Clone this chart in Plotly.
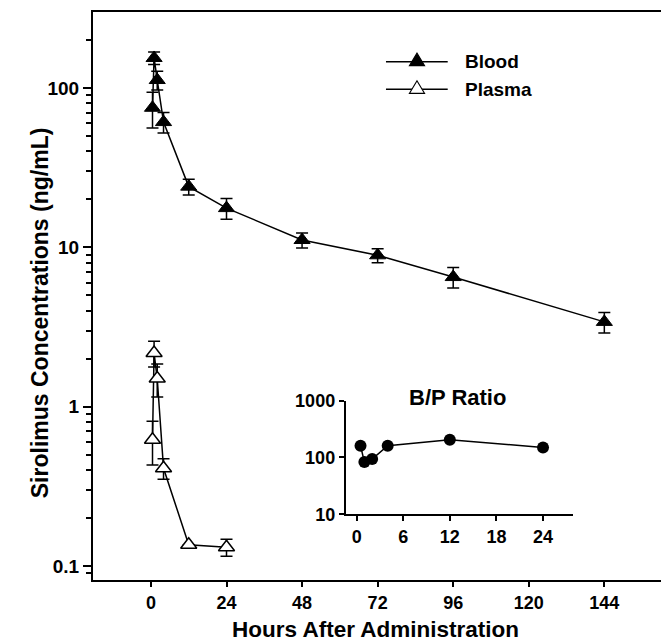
import plotly.graph_objects as go

# ---- data ----
blood_time = [0.5, 1, 2, 4, 12, 24, 48, 72, 96, 144]
blood_conc = [75, 154, 112, 61, 24, 17.6, 11.1, 8.9, 6.5, 3.4]
blood_err = [19, 14, 15, 9, 2.7, 2.6, 1.2, 0.9, 0.95, 0.5]

plasma_time = [0.5, 1, 2, 4, 12, 24]
plasma_conc = [0.62, 2.17, 1.5, 0.41, 0.136, 0.131]
plasma_err = [0.19, 0.4, 0.35, 0.06, 0.0, 0.016]

ratio_time = [0.5, 1, 2, 4, 12, 24]
ratio_vals = [161, 83, 94, 161, 205, 150]

x_ticks = [0, 24, 48, 72, 96, 120, 144]
y_ticks = [0.1, 1, 10, 100]
y_ticktext = ["0.1", "1", "10", "100"]
y_minor = [0.09, 0.2, 0.3, 0.4, 0.5, 0.6, 0.7, 0.8, 0.9,
           2, 3, 4, 5, 6, 7, 8, 9, 20, 30, 40, 50, 60, 70, 80, 90, 200]
inset_x_ticks = [0, 6, 12, 18, 24]
inset_y_ticks = [10, 100, 1000]

FONT = "Liberation Sans, Arial, Helvetica, sans-serif"
BOLD = dict(family=FONT, color="black", weight="bold")

fig = go.Figure()

fig.add_trace(go.Scatter(
    x=blood_time, y=blood_conc, mode="lines+markers", name="Blood",
    line=dict(color="black", width=1.5),
    marker=dict(symbol="triangle-up", size=14, color="black",
                line=dict(color="black", width=1)),
    error_y=dict(type="data", array=blood_err, visible=True,
                 color="black", thickness=1.5, width=6),
    showlegend=False, xaxis="x", yaxis="y"))

fig.add_trace(go.Scatter(
    x=plasma_time, y=plasma_conc, mode="lines+markers", name="Plasma",
    line=dict(color="black", width=1.5),
    marker=dict(symbol="triangle-up", size=14, color="white",
                line=dict(color="black", width=1.5)),
    error_y=dict(type="data", array=plasma_err, visible=True,
                 color="black", thickness=1.5, width=6),
    showlegend=False, xaxis="x", yaxis="y"))

fig.add_trace(go.Scatter(
    x=ratio_time, y=ratio_vals, mode="lines+markers", name="B/P Ratio",
    line=dict(color="black", width=1.5),
    marker=dict(symbol="circle", size=12, color="black"),
    showlegend=False, xaxis="x2", yaxis="y2"))

# legend drawn manually (long line with marker in the middle)
leg_x0, leg_x1, leg_xm, leg_xt = 0.5158, 0.6245, 0.5704, 0.6509
leg_rows = [(0.9125, "Blood", "black"), (0.8639, "Plasma", "white")]
shapes = []
annotations = []
for yy, label, fill in leg_rows:
    shapes.append(dict(type="line", xref="paper", yref="paper",
                       x0=leg_x0, x1=leg_x1, y0=yy, y1=yy,
                       line=dict(color="black", width=1.5)))
    shapes.append(dict(type="path", xref="paper", yref="paper",
                       xsizemode="pixel", ysizemode="pixel",
                       xanchor=leg_xm, yanchor=yy,
                       path="M-7.5,-4 L7.5,-4 L0,8.5 Z",
                       fillcolor=fill, line=dict(color="black", width=1.2)))
    annotations.append(dict(xref="paper", yref="paper", x=leg_xt, y=yy,
                            xanchor="left", yanchor="middle", showarrow=False,
                            text=label, font=dict(size=19, **BOLD)))

annotations.append(dict(xref="paper", yref="paper", x=0.6426, y=0.322,
                        xanchor="center", yanchor="middle", showarrow=False,
                        text="B/P Ratio", font=dict(size=22, **BOLD)))
annotations.append(dict(xref="paper", yref="paper", x=0.497, y=-0.0863,
                        xanchor="center", yanchor="middle", showarrow=False,
                        text="Hours After Administration",
                        font=dict(size=22.5, **BOLD)))
annotations.append(dict(xref="paper", yref="paper", x=-0.093, y=0.47,
                        xanchor="center", yanchor="middle", showarrow=False,
                        textangle=-90,
                        text="Sirolimus Concentrations (ng/mL)",
                        font=dict(size=23, **BOLD)))

fig.update_layout(
    width=661, height=642,
    margin=dict(l=93, r=0, t=12, b=62, autoexpand=False),
    plot_bgcolor="white", paper_bgcolor="white",
    showlegend=False,
    font=dict(family=FONT, color="black"),
    shapes=shapes, annotations=annotations,
    xaxis=dict(domain=[0, 1], range=[-18.4, 162], tickvals=x_ticks,
               automargin=False,
               showline=True, linecolor="black", linewidth=2, mirror=True,
               ticks="outside", ticklen=5, tickwidth=1.5, tickcolor="black",
               showgrid=False, zeroline=False,
               tickfont=dict(size=18, **BOLD)),
    yaxis=dict(domain=[0, 1], type="log", range=[-1.088, 2.476],
               automargin=False,
               tickvals=y_ticks, ticktext=y_ticktext,
               showline=True, linecolor="black", linewidth=2, mirror=False,
               ticks="outside", ticklen=8, tickwidth=1.5, tickcolor="black",
               minor=dict(tickvals=y_minor, ticks="outside", ticklen=5,
                          tickwidth=1.5, tickcolor="black", showgrid=False),
               showgrid=False, zeroline=False,
               tickfont=dict(size=19, **BOLD)),
    xaxis2=dict(domain=[0.445, 0.8456], anchor="y2", range=[-1.4, 27.9],
                automargin=False, tickvals=inset_x_ticks,
                showline=True, linecolor="black", linewidth=2,
                ticks="outside", ticklen=5, tickwidth=1.5, tickcolor="black",
                showgrid=False, zeroline=False,
                tickfont=dict(size=18, **BOLD)),
    yaxis2=dict(domain=[0.1157, 0.3157], anchor="x2", type="log",
                automargin=False,
                range=[1, 3], tickvals=inset_y_ticks,
                ticktext=["10", "100", "1000"],
                showline=True, linecolor="black", linewidth=2,
                ticks="outside", ticklen=5, tickwidth=1.5, tickcolor="black",
                showgrid=False, zeroline=False,
                tickfont=dict(size=18, **BOLD)),
)

fig.write_html(
    "out.html",
    config={"displayModeBar": False},
    post_script="document.body.style.margin='0';"
                "document.body.style.overflow='hidden';",
)
